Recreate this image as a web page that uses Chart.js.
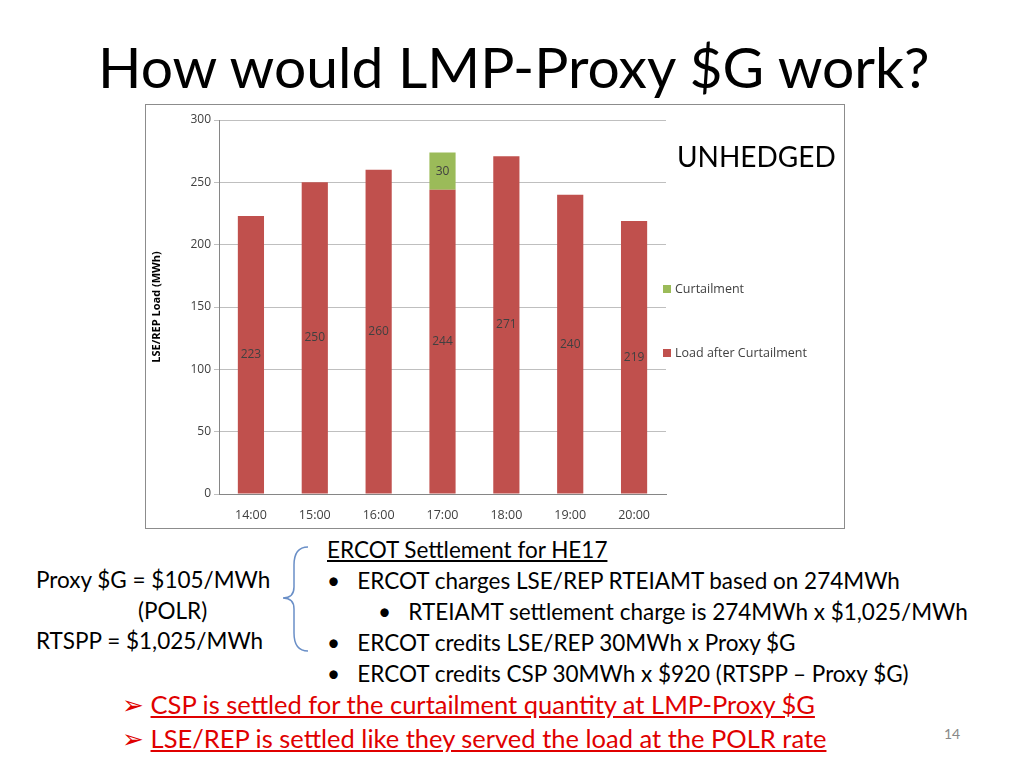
<!DOCTYPE html>
<html><head><meta charset="utf-8">
<script src="https://cdn.jsdelivr.net/npm/chart.js@4"></script>
<style>
body{margin:0;width:1024px;height:768px;background:#fff;font-family:Lato,"Open Sans",sans-serif;position:relative;overflow:hidden;color:#000}
.a{position:absolute;white-space:nowrap}
#box{position:absolute;left:145px;top:104px;width:698px;height:423px;border:1px solid #8c8c8c}
.lg{position:absolute;font-size:12.5px;color:#404040;font-family:"Open Sans",sans-serif}
.sw{display:inline-block;width:8px;height:8px;margin-right:4px}
</style></head><body>
<div class="a" style="left:98px;top:32px;font-size:57px;">How would LMP-Proxy $G work?</div>
<div id="box"><canvas id="c" width="698" height="423"></canvas>
<div class="a" style="left:531px;top:34px;font-size:28px;">UNHEDGED</div>
<div class="lg" style="left:517px;top:175px"><span class="sw" style="background:#9bbb59"></span>Curtailment</div>
<div class="lg" style="left:517px;top:239px"><span class="sw" style="background:#c0504d"></span>Load after Curtailment</div>
</div>
<div class="a" style="left:327px;top:536px;font-size:22.5px;text-decoration:underline">ERCOT Settlement for HE17</div>
<div class="a" style="left:36px;top:566px;font-size:22.5px">Proxy $G = $105/MWh</div>
<div class="a" style="left:138px;top:597px;font-size:22.5px">(POLR)</div>
<div class="a" style="left:36px;top:627px;font-size:22.5px">RTSPP = $1,025/MWh</div>
<svg class="a" style="left:280px;top:545px" width="30" height="110"><path d="M28 2 Q14 2 14 20 L14 42 Q14 53 3 53 Q14 53 14 64 L14 88 Q14 106 28 106" fill="none" stroke="#6a8fc7" stroke-width="1.5"/></svg>
<div class="a" style="left:327px;top:567px;font-size:22.5px">•&nbsp;&nbsp;&nbsp;ERCOT charges LSE/REP RTEIAMT based on 274MWh</div>
<div class="a" style="left:378px;top:598px;font-size:22.5px">•&nbsp;&nbsp;&nbsp;RTEIAMT settlement charge is 274MWh x $1,025/MWh</div>
<div class="a" style="left:327px;top:629px;font-size:22.5px">•&nbsp;&nbsp;&nbsp;ERCOT credits LSE/REP 30MWh x Proxy $G</div>
<div class="a" style="left:327px;top:660px;font-size:22.5px">•&nbsp;&nbsp;&nbsp;ERCOT credits CSP 30MWh x $920 (RTSPP – Proxy $G)</div>
<div class="a" style="left:122px;top:689px;font-size:25.5px;color:#e00000">➢ <u>CSP is settled for the curtailment quantity at LMP-Proxy $G</u></div>
<div class="a" style="left:122px;top:723px;font-size:25.5px;color:#e00000">➢ <u>LSE/REP is settled like they served the load at the POLR rate</u></div>
<div class="a" style="left:944px;top:725px;font-size:14px;color:#888">14</div>
<script>
const categories=["14:00","15:00","16:00","17:00","18:00","19:00","20:00"];
const loadAfter=[223,250,260,244,271,240,219];
const curtailment=[null,null,null,30,null,null,null];
const yTicks=[0,50,100,150,200,250,300];
const labelPlugin={id:'lbl',afterDatasetsDraw(ch){const x=ch.ctx;x.save();x.font='12px "Open Sans"';x.fillStyle='#404040';x.textAlign='center';x.textBaseline='middle';
ch.data.datasets.forEach((d,i)=>{ch.getDatasetMeta(i).data.forEach((b,j)=>{const v=d.data[j];if(v==null)return;x.fillText(v,b.x,(b.y+b.base)/2);});});x.restore();}};
new Chart(document.getElementById('c'),{type:'bar',data:{labels:categories,datasets:[
{label:'Load after Curtailment',data:loadAfter,backgroundColor:'#c0504d',stack:'s'},
{label:'Curtailment',data:curtailment,backgroundColor:'#9bbb59',stack:'s'}]},
options:{responsive:false,animation:false,layout:{padding:{top:15,right:178,bottom:0}},
plugins:{legend:{display:false},tooltip:{enabled:false}},
datasets:{bar:{barPercentage:0.41,categoryPercentage:1}},
scales:{x:{stacked:true,grid:{display:false},border:{color:'#868686'},ticks:{color:'#404040',font:{family:'Open Sans',size:12.5},padding:6},afterFit(s){s.height=34}},
y:{stacked:true,min:0,max:300,afterBuildTicks(s){s.ticks=yTicks.map(v=>({value:v}))},grid:{color:'#bfbfbf',drawTicks:true,tickLength:5},border:{color:'#868686'},
ticks:{color:'#404040',font:{family:'Open Sans',size:12}},title:{display:true,text:'LSE/REP Load (MWh)',color:'#000',font:{family:'Open Sans',size:11,weight:'bold'}},afterFit(s){s.width=73}}}},
plugins:[labelPlugin]});
</script></body></html>
